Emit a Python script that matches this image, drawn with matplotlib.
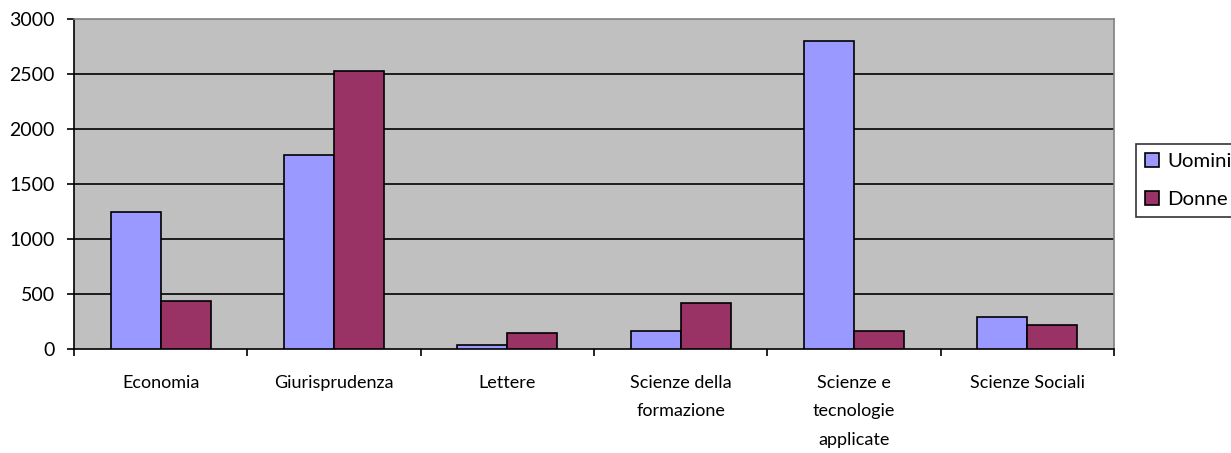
import matplotlib
matplotlib.use("Agg")
import matplotlib.pyplot as plt
import numpy as np

categories = ["Economia", "Giurisprudenza", "Lettere", "Scienze della\nformazione",
              "Scienze e\ntecnologie\napplicate", "Scienze Sociali"]
uomini = [1240, 1760, 35, 160, 2800, 290]
donne = [435, 2530, 145, 420, 165, 220]
series_names = ["Uomini", "Donne"]
yticks = [0, 500, 1000, 1500, 2000, 2500, 3000]

plt.rcParams['font.family'] = ['Lato', 'DejaVu Sans']
W, H = 1231, 453
fig = plt.figure(figsize=(W / 100, H / 100), dpi=100)
ax = fig.add_axes([74 / W, 1 - 348.7 / H, (1114 - 74) / W, (348.7 - 19) / H])
ax.set_facecolor("#c0c0c0")

x = np.arange(len(categories))
bw = 0.289
ax.bar(x - bw / 2, uomini, bw, color="#9999ff", edgecolor="black", linewidth=1.2,
       label=series_names[0], zorder=3)
ax.bar(x + bw / 2, donne, bw, color="#993366", edgecolor="black", linewidth=1.2,
       label=series_names[1], zorder=3)

fs = 13
ax.set_xlim(-0.5, len(categories) - 0.5)
ax.set_ylim(0, 3000)
ax.set_yticks(yticks)
ax.set_yticklabels([str(v) for v in yticks], fontsize=14)
for v in yticks[1:-1]:
    ax.axhline(v, color="black", linewidth=1.2, zorder=1)

ax.set_xticks(x)
ax.set_xticklabels(categories, fontsize=fs, linespacing=1.95, va="top")
ax.tick_params(axis="x", length=0, pad=19)
ax.set_xticks(np.arange(len(categories) + 1) - 0.5, minor=True)
ax.tick_params(axis="x", which="minor", length=5, width=1.2, direction="out")
ax.tick_params(axis="y", length=5, width=1.2, direction="out", pad=9)

for side in ["left", "bottom"]:
    ax.spines[side].set_color("black")
    ax.spines[side].set_linewidth(1.2)
for side in ["top", "right"]:
    ax.spines[side].set_color("#808080")
    ax.spines[side].set_linewidth(1.2)

leg = fig.legend(loc="upper left", bbox_to_anchor=(1136 / W, 1 - 144 / H),
                 bbox_transform=fig.transFigure, fontsize=14.7, frameon=True,
                 fancybox=False, borderaxespad=0, handlelength=0.69, handleheight=0.69,
                 handletextpad=0.4, borderpad=0.45, labelspacing=1.0)
leg.get_frame().set_edgecolor("black")
leg.get_frame().set_linewidth(1.2)

fig.savefig("out.png", dpi=100, facecolor="white")
